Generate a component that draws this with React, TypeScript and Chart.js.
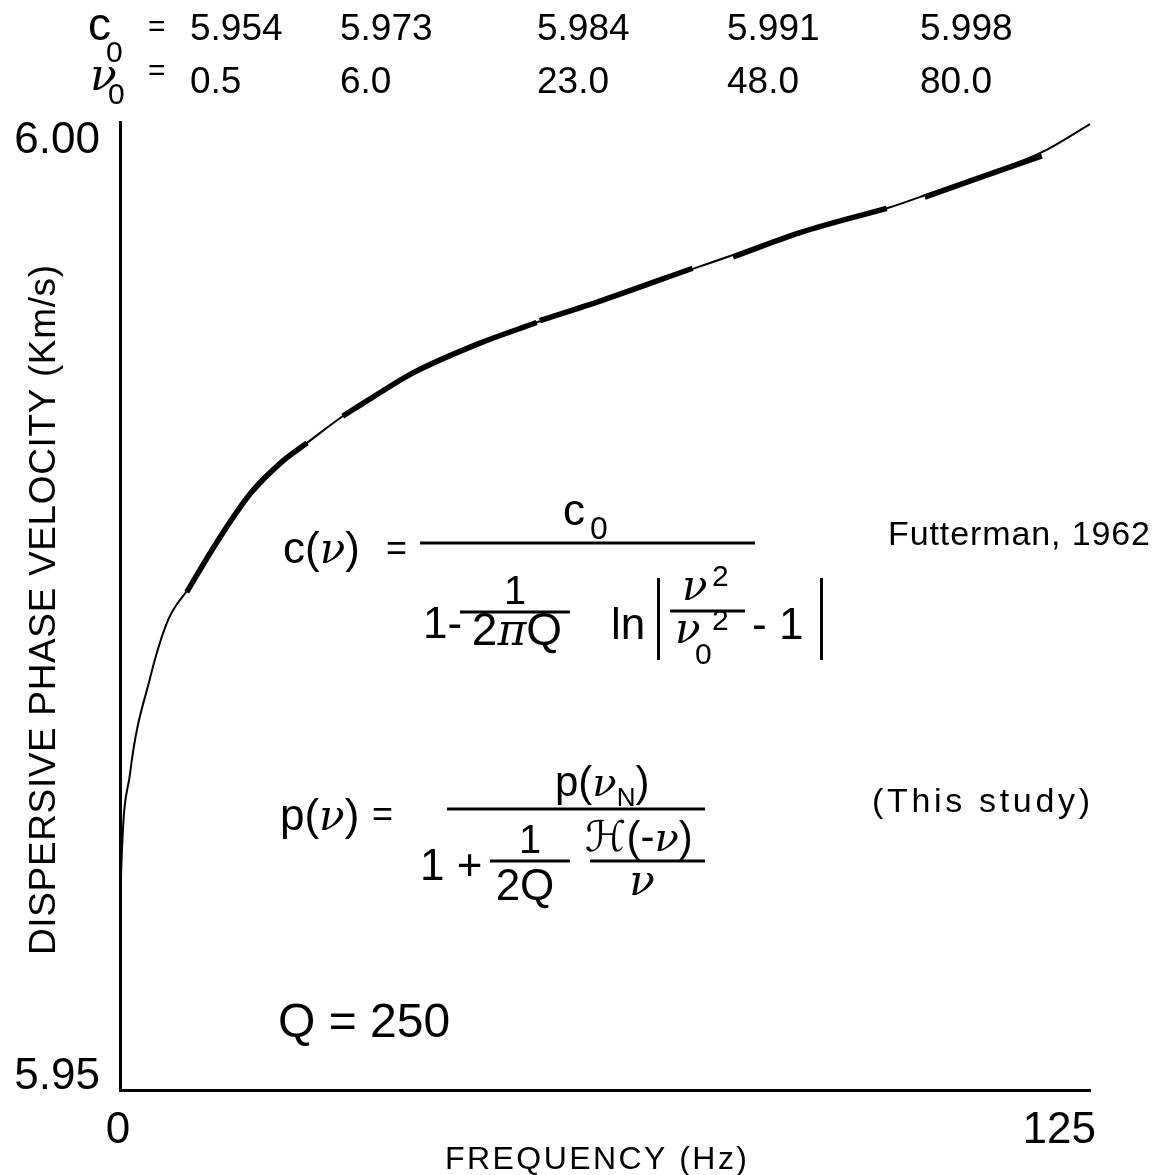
import React, { useEffect, useRef } from "react";
import { Chart, registerables } from "chart.js";

Chart.register(...registerables);

// ---- data ----
const frequencyHz = [0, 0.13, 1.29, 3.87, 6.19, 9.02, 12.5, 16.75, 21.0, 24.1, 28.74, 32.6, 37.76, 46.39, 55.03, 62.24, 74.74, 87.63, 98.84, 103.74, 118.81, 125];
const velocityKms = [5.9579, 5.9607, 5.9662, 5.9713, 5.9744, 5.9762, 5.97858, 5.98114, 5.98291, 5.98387, 5.98531, 5.98632, 5.98761, 5.9892, 5.9905, 5.9915, 5.9933, 5.9951, 5.9964, 5.9971, 5.9994, 6.0009];

// Futterman (1962) curves, drawn as heavy segments
const futt1Freq = [8.6, 12.5, 16.75, 21.0, 24.1];
const futt1Vel = [5.9759, 5.97858, 5.98114, 5.98291, 5.98387];
const futt2Freq = [28.7, 32.6, 37.76, 46.39, 53.7];
const futt2Vel = [5.9853, 5.98632, 5.98761, 5.9892, 5.9903];
const futt3Freq = [54.1, 62.24, 73.8];
const futt3Vel = [5.9904, 5.9915, 5.9932];
const futt4Freq = [79.0, 87.63, 98.8];
const futt4Vel = [5.9938, 5.9951, 5.9964];
const futt5Freq = [103.7, 110.5, 118.8];
const futt5Vel = [5.997, 5.998, 5.9992];

const c0Labels = ["5.954", "5.973", "5.984", "5.991", "5.998"];
const nu0Labels = ["0.5", "6.0", "23.0", "48.0", "80.0"];

const xTickValues = [0, 125];
const yTickValues = [5.95, 6.0];
const xMin = 0;
const xMax = 125;
const yMin = 5.94931;
const yMax = 6.00101;

const xTitle = "FREQUENCY (Hz)";
const yTitle = "DISPERSIVE PHASE VELOCITY (Km/s)";

// ---- style ----
const SANS = '"Liberation Sans", Arial, sans-serif';
const F = (s: number) => `${s}px ${SANS}`;
const FI = (s: number) => `italic ${s}px "DejaVu Serif", serif`;
const FS = (s: number) => `${s}px "DejaVu Sans", sans-serif`;

function run(ctx: CanvasRenderingContext2D, x: number, y: number, parts: Array<[string, string, number?]>) {
  let cx = x;
  for (const [t, f, dy] of parts) {
    ctx.font = f;
    ctx.fillText(t, cx, y + (dy || 0));
    cx += ctx.measureText(t).width;
  }
  return cx;
}

function centered(ctx: CanvasRenderingContext2D, cx: number, y: number, parts: Array<[string, string, number?]>) {
  let w = 0;
  for (const [t, f] of parts) {
    ctx.font = f;
    w += ctx.measureText(t).width;
  }
  return run(ctx, cx - w / 2, y, parts);
}

function spaced(ctx: CanvasRenderingContext2D, text: string, x: number, y: number, font: string, width: number) {
  ctx.font = font;
  const chars = Array.from(text);
  const ws = chars.map((c) => ctx.measureText(c).width);
  const nat = ws.reduce((a, b) => a + b, 0);
  const gap = (width - nat) / (chars.length - 1);
  let cx = x;
  chars.forEach((c, i) => {
    ctx.fillText(c, cx, y);
    cx += ws[i] + gap;
  });
}

function bar(ctx: CanvasRenderingContext2D, x1: number, x2: number, y: number, h = 3) {
  ctx.fillRect(x1, y - h / 2, x2 - x1, h);
}

const annotations = {
  id: "annotations",
  afterDraw(chart: any) {
    const ctx: CanvasRenderingContext2D = chart.ctx;
    const xs = chart.scales.x;
    const area = chart.chartArea;
    ctx.save();
    ctx.fillStyle = "#000";
    ctx.textBaseline = "alphabetic";
    ctx.textAlign = "left";

    // header rows
    const colX = [190, 340, 537, 727, 920];
    run(ctx, 88, 40, [["c", F(46)]]);
    run(ctx, 106, 62, [["0", F(30)]]);
    run(ctx, 148, 36, [["=", F(30)]]);
    run(ctx, 90, 90, [["ν", FI(44)]]);
    run(ctx, 108, 104, [["0", F(30)]]);
    run(ctx, 148, 80, [["=", F(30)]]);
    c0Labels.forEach((s, i) => run(ctx, colX[i], 40, [[s, F(37)]]));
    nu0Labels.forEach((s, i) => run(ctx, colX[i], 93, [[s, F(37)]]));

    // Futterman formula
    run(ctx, 283, 563, [["c(", F(44)], ["ν", FI(42)], [")", F(44)]]);
    run(ctx, 386, 560, [["=", F(36)]]);
    bar(ctx, 420, 755, 543);
    run(ctx, 563, 525, [["c", F(44)]]);
    run(ctx, 590, 539, [["0", F(32)]]);
    run(ctx, 423, 638, [["1-", F(44)]]);
    centered(ctx, 515, 604, [["1", F(40)]]);
    bar(ctx, 460, 570, 612);
    centered(ctx, 517, 645, [["2", F(46)], ["π", FI(44)], ["Q", F(46)]]);
    run(ctx, 611, 639, [["ln", F(44)]]);
    ctx.fillRect(657, 578, 3, 82);
    ctx.fillRect(820, 578, 3, 82);
    run(ctx, 682, 600, [["ν", FI(42)]]);
    run(ctx, 712, 586, [["2", F(30)]]);
    bar(ctx, 670, 745, 611);
    run(ctx, 675, 643, [["ν", FI(42)]]);
    run(ctx, 695, 664, [["0", F(30)]]);
    run(ctx, 712, 630, [["2", F(30)]]);
    run(ctx, 752, 639, [["- 1", F(44)]]);
    spaced(ctx, "Futterman, 1962", 888, 545, F(34), 262);

    // This study formula
    run(ctx, 280, 830, [["p(", F(44)], ["ν", FI(42)], [")", F(44)]]);
    run(ctx, 372, 826, [["=", F(36)]]);
    const ex = run(ctx, 555, 796, [["p(", F(42)], ["ν", FI(40)]]);
    const ex2 = run(ctx, ex, 806, [["N", F(26)]]);
    run(ctx, ex2, 796, [[")", F(42)]]);
    bar(ctx, 447, 705, 809);
    run(ctx, 420, 880, [["1 +", F(44)]]);
    centered(ctx, 530, 853, [["1", F(40)]]);
    bar(ctx, 490, 570, 861);
    centered(ctx, 525, 900, [["2Q", F(44)]]);
    run(ctx, 585, 851, [["ℋ", FS(42)], ["(-", F(42)], ["ν", FI(40)], [")", F(42)]]);
    bar(ctx, 590, 705, 861);
    centered(ctx, 642, 895, [["ν", FI(42)]]);
    spaced(ctx, "(This study)", 872, 812, F(34), 218);

    run(ctx, 278, 1037, [["Q = 250", F(48)]]);

    // x tick labels
    ctx.font = F(44);
    xTickValues.forEach((v, i) => {
      const px = xs.getPixelForValue(v);
      ctx.textAlign = i === 0 ? "center" : "right";
      ctx.fillText(String(v), i === 0 ? px - 2 : px + 6, area.bottom + 53);
    });
    ctx.textAlign = "left";

    // axis titles
    spaced(ctx, xTitle, 445, 1169, F(32), 302);
    ctx.save();
    ctx.translate(55, 955);
    ctx.rotate(-Math.PI / 2);
    spaced(ctx, yTitle, 0, 0, F(37), 690);
    ctx.restore();

    ctx.restore();
  },
};

function pts(xs: number[], ys: number[]) {
  return xs.map((x, i) => ({ x, y: ys[i] }));
}

export default function App() {
  const ref = useRef<HTMLCanvasElement | null>(null);
  useEffect(() => {
    if (!ref.current) return;
    const heavy = (label: string, xs: number[], ys: number[]) => ({
      label,
      data: pts(xs, ys),
      borderColor: "#000",
      borderWidth: 5.5,
      pointRadius: 0,
      borderCapStyle: "butt" as const,
      cubicInterpolationMode: "monotone" as const,
      clip: false as any,
    });
    const chart = new Chart(ref.current, {
      type: "line",
      data: {
        datasets: [
          heavy("Futterman ν0=0.5", futt1Freq, futt1Vel),
          heavy("Futterman ν0=6.0", futt2Freq, futt2Vel),
          heavy("Futterman ν0=23.0", futt3Freq, futt3Vel),
          heavy("Futterman ν0=48.0", futt4Freq, futt4Vel),
          heavy("Futterman ν0=80.0", futt5Freq, futt5Vel),
          {
            label: "This study",
            data: pts(frequencyHz, velocityKms),
            borderColor: "#000",
            borderWidth: 2,
            pointRadius: 0,
            cubicInterpolationMode: "monotone",
            clip: false as any,
          },
        ],
      },
      options: {
        animation: false,
        responsive: false,
        layout: { padding: { left: 0, top: 122, right: 74, bottom: 0 } },
        plugins: { legend: { display: false }, tooltip: { enabled: false }, title: { display: false } },
        scales: {
          x: {
            type: "linear",
            min: xMin,
            max: xMax,
            afterBuildTicks: (s: any) => {
              s.ticks = xTickValues.map((value) => ({ value }));
            },
            afterFit: (s: any) => {
              s.height = 85;
            },
            ticks: { display: false },
            grid: { display: false, drawTicks: false },
            border: { display: true, color: "#000", width: 3 },
          },
          y: {
            type: "linear",
            min: yMin,
            max: yMax,
            afterBuildTicks: (s: any) => {
              s.ticks = yTickValues.map((value) => ({ value }));
            },
            afterFit: (s: any) => {
              s.width = 120;
            },
            ticks: { font: { family: SANS, size: 44 }, color: "#000", padding: 20, callback: (v: any) => Number(v).toFixed(2) },
            grid: { display: false, drawTicks: false },
            border: { display: true, color: "#000", width: 3 },
          },
        },
      },
      plugins: [annotations],
    });
    return () => chart.destroy();
  }, []);
  return (
    <canvas
      ref={ref}
      width={1164}
      height={1175}
      style={{ display: "block", position: "absolute", left: 0, top: 0 }}
    />
  );
}
